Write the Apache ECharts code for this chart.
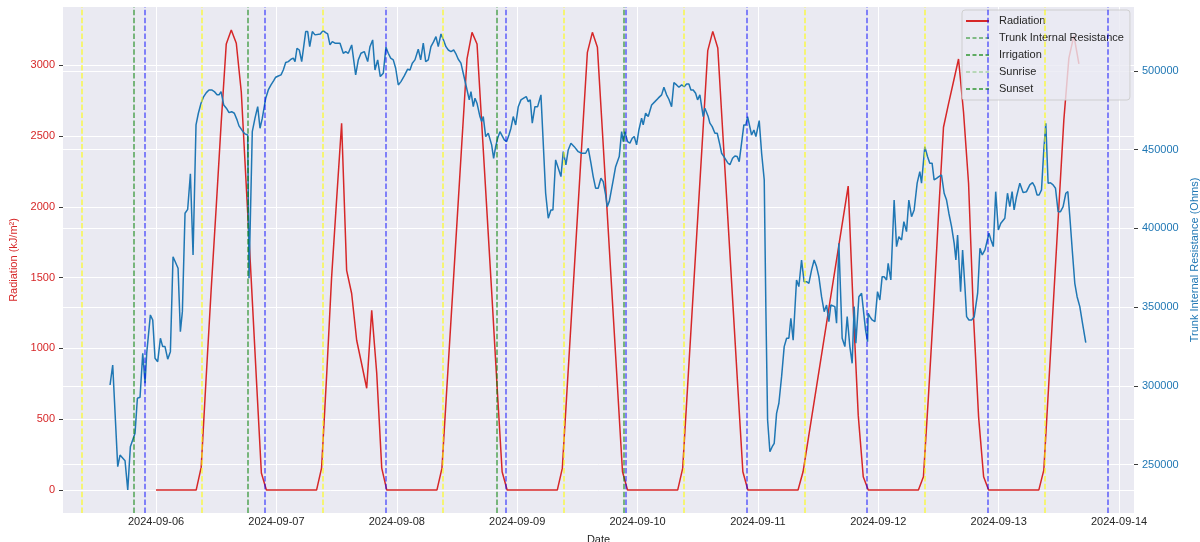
<!DOCTYPE html>
<html>
<head>
<meta charset="utf-8">
<title>Radiation and Trunk Internal Resistance</title>
<script src="https://cdn.jsdelivr.net/npm/echarts@6.0.0/dist/echarts.min.js"></script>
<style>
  html, body { margin: 0; padding: 0; background: #ffffff; }
  #chart { width: 1200px; height: 542px; }
</style>
</head>
<body>
<div id="chart"></div>
<script>
// ---- data ---------------------------------------------------------------
// Hourly solar radiation (kJ/m²), first value at radiationStart.
// null = no reading for that hour (line is drawn straight across).
const radiationStart = '2024-09-06 00:00';
const radiationValues = [
  // 09-06
  0, 0, 0, 0, 0, 0, 0, 0, 0, 160, 800, 1420, 2000, 2600, 3150, 3249, 3155, 2809, 2140, 1470, 790, 120, 0, 0,
  // 09-07
  0, 0, 0, 0, 0, 0, 0, 0, 0, 155, 800, 1500, 2050, 2590, 1551, 1388, 1058, 890, 719, 1269, 825, 155, 0, 0,
  // 09-08
  0, 0, 0, 0, 0, 0, 0, 0, 0, 153, 733, 1313, 1890, 2470, 3044, 3232, 3150, 2550, 1950, 1350, 730, 129, 0, 0,
  // 09-09
  0, 0, 0, 0, 0, 0, 0, 0, 0, 153, 743, 1333, 1920, 2510, 3091, 3232, 3126, 2530, 1930, 1330, 730, 129, 0, 0,
  // 09-10
  0, 0, 0, 0, 0, 0, 0, 0, 0, 153, 743, 1333, 1920, 2510, 3103, 3239, 3122, 2520, 1920, 1320, 720, 129, 0, 0,
  // 09-11
  0, 0, 0, 0, 0, 0, 0, 0, 0, 129, null, null, null, null, null, null, null, null, 2146, 1283, 529, 94, 0, 0,
  // 09-12
  0, 0, 0, 0, 0, 0, 0, 0, 0, 94, 663, 1269, 1940, 2562, 2727, 2885, 3044, 2666, 2165, 1215, 517, 94, 0, 0,
  // 09-13
  0, 0, 0, 0, 0, 0, 0, 0, 0, 141, 756, 1383, 2000, 2616, 3050, 3209, 3009
];

// Trunk internal resistance (Ohms); times are hours after 2024-09-06 00:00.
const resistanceHours = [
  -9.17, -8.64, -7.64, -7.18, -6.18, -5.64, -5.12, -4.19, -3.72, -3.19, -2.65, -2.19, -1.86, -1.13, -0.66, -0.2,
  0.33, 0.87, 1.33, 1.79, 2.33, 2.86, 3.39, 4.39, 4.85, 5.25, 5.78, 6.31, 6.85, 7.38, 7.97, 8.44, 8.97, 9.5,
  10.03, 10.56, 11.1, 11.62, 12.16, 12.56, 12.96, 13.49, 14.02, 14.55, 15.08, 15.61, 16.15, 16.54, 17.34, 17.74,
  18.28, 18.54, 19.19, 19.73, 20.27, 20.73, 21.19, 21.87, 22.38, 22.92, 23.46, 23.86, 24.38, 24.92, 25.37, 25.85,
  26.37, 26.91, 27.37, 27.71, 28.1, 28.56, 29.04, 29.84, 30.24, 30.64, 31.16, 31.69, 32.75, 33.29, 33.82, 34.22,
  34.68, 35.14, 35.68, 36.68, 37.33, 37.81, 38.33, 39.01, 39.33, 39.8, 40.33, 40.86, 41.52, 42.2, 42.65, 43.19,
  43.65, 44.19, 44.71, 45.31, 45.84, 46.3, 46.78, 47.3, 47.78, 48.3, 48.83, 49.49, 50.17, 50.63, 51.09, 51.62,
  52.28, 52.76, 53.28, 53.76, 54.28, 54.81, 55.35, 55.81, 56.27, 56.81, 57.35, 57.8, 58.27, 58.8, 59.34, 59.74,
  60.26, 60.79, 61.25, 61.59, 61.93, 62.45, 62.79, 63.25, 63.59, 63.99, 64.58, 64.92, 65.24, 65.72, 66.24, 66.91,
  67.31, 67.71, 68.11, 68.57, 69.43, 69.9, 70.36, 70.76, 71.22, 71.7, 72.22, 72.76, 73.3, 73.81, 74.21, 74.61,
  75.01, 75.54, 76.08, 76.74, 77.68, 78.2, 78.73, 79.13, 79.67, 80.73, 81.19, 81.72, 82.18, 82.72, 83.38, 84.18,
  84.85, 85.65, 86.17, 86.71, 87.16, 87.64, 88.16, 88.7, 89.16, 89.64, 89.96, 90.36, 90.69, 91.16, 91.63, 92.35,
  92.83, 93.15, 93.48, 94.02, 94.48, 94.94, 95.34, 95.81, 96.27, 96.81, 97.13, 97.61, 98.13, 98.81, 99.46, 100.12,
  100.8, 101.26, 101.79, 102.25, 102.79, 103.25, 103.79, 104.25, 104.79, 105.3, 105.78, 106.24, 106.64, 107.1, 107.58, 107.97,
  108.43, 108.77, 109.09, 109.43, 109.77, 110.09, 110.43, 110.89, 111.43, 111.89, 112.42, 112.76, 113.22, 113.56, 113.96, 114.42,
  114.95, 115.41, 115.87, 116.27, 116.74, 117.2, 117.6, 117.94, 118.26, 118.74, 119.2, 119.6, 120.26, 120.74, 121.26, 121.59,
  121.93, 122.39, 122.85, 123.25, 123.72, 124.18, 124.72, 125.24, 125.72, 126.17, 126.57, 127.03, 127.7, 128.16, 128.7, 129.21,
  129.7, 130.16, 130.7, 131.21, 131.69, 132.15, 132.69, 133.21, 133.69, 134.15, 134.54, 135.34, 135.68, 136.14, 136.8, 137.34,
  137.8, 138.33, 138.79, 139.19, 139.53, 140.13, 140.67, 141.46, 141.86, 141.98, 142.32, 142.78, 143.32, 143.85, 144.31, 144.77,
  145.17, 145.65, 145.97, 146.5, 147.16, 147.64, 148.1, 148.64, 149.1, 149.63, 150.09, 150.63, 151.15, 151.75, 152.28, 152.62,
  153.28, 153.81, 154.27, 154.73, 155.13, 155.61, 156.07, 156.61, 157.13, 157.61, 158.07, 158.61, 159.13, 159.47, 159.81, 160.41,
  160.81, 161.27, 161.61, 162.07, 162.61, 163.13, 163.81, 164.27, 164.73, 165.27, 165.61, 166.07, 166.47, 166.93, 167.41, 167.93,
  168.43, 169.23, 169.76, 170.22, 170.68, 171.08, 171.56, 172.22, 172.87, 173.55, 174.21, 174.75, 175.2, 175.66, 176.06, 176.54,
  177.0, 177.4, 177.86, 178.33, 178.85, 179.33, 179.85, 180.33, 180.85, 181.39, 181.79, 182.19, 182.72, 183.18, 183.64, 184.18,
  184.72, 185.37
];
const resistanceOhms = [
  300500, 313200, 248600, 256000, 252400, 233800, 261300, 269800, 292100, 292700, 320700, 301600, 320700, 345000, 341800, 317500,
  315300, 330200, 324900, 324900, 316900, 321700, 382000, 374700, 334400, 347100, 409600, 412100, 434600, 383100, 465700, 473100, 479500, 483700,
  486200, 487900, 487900, 486900, 484800, 484800, 486900, 478400, 476300, 473500, 474100, 473100, 468900, 465100, 461400, 460000,
  459300, 368300, 461400, 470000, 477300, 463600, 470000, 482700, 487900, 491100, 493800, 496000, 496800, 497500, 500600, 505300,
  505900, 507400, 508100, 505900, 514400, 513300, 505900, 525000, 525000, 515400, 525000, 522900, 523500, 525600, 524300, 523500,
  516500, 518600, 517600, 517600, 511200, 512300, 511200, 516500, 515400, 497500, 507000, 511200, 512300, 505900, 515400, 519700,
  500600, 507000, 496400, 498500, 515100, 511200, 508100, 507000, 501700, 491100, 493200, 496800, 501100, 500600, 504900, 507000,
  513800, 507000, 517600, 505900, 507000, 515400, 518600, 521800, 515400, 523500, 519300, 515400, 513300, 512300, 513300, 511200,
  507400, 504900, 498500, 498500, 489000, 481600, 486900, 477300, 482700, 479500, 471000, 467800, 471000, 458300, 460400, 453000,
  444500, 451900, 457200, 461400, 456200, 455100, 459300, 463600, 471000, 465700, 477300, 481600, 482700, 483700, 480500, 481600,
  466800, 477300, 477300, 484800, 422300, 406400, 411700, 411700, 443500, 432900, 448700, 440300, 449800, 454100, 451900, 448700,
  447700, 447700, 450900, 441400, 432900, 425500, 425500, 431800, 429700, 421200, 413800, 417000, 416000, 430800, 439200, 445600,
  461400, 455100, 461400, 455100, 454100, 457200, 458300, 453000, 462500, 470000, 465700, 473100, 471000, 478400, 480500, 482700,
  484800, 489600, 484800, 482000, 477300, 492600, 491100, 489600, 491100, 490000, 491700, 491700, 487900, 487900, 485800, 481600,
  484800, 485800, 471000, 476300, 476900, 471000, 466800, 464600, 460400, 460400, 453000, 447700, 445600, 445600, 441700, 440400,
  444500, 446000, 445600, 442400, 454100, 465700, 465700, 471000, 471400, 459300, 462500, 458300, 468400, 447700, 430800, 348200,
  278300, 258100, 261300, 263500, 282500, 288900, 305800, 324900, 330200, 330200, 342900, 329000, 367200, 363000, 379900, 366100,
  366100, 365100, 373600, 379900, 375700, 369300, 356600, 347100, 351300, 340700, 351300, 350300, 339700, 390500, 330200, 324900,
  343900, 324900, 314300, 350300, 327000, 356600, 358800, 335500, 328000, 346100, 343900, 341800, 340700, 359800, 354500, 369300,
  369300, 367200, 377800, 367200, 418000, 388400, 394700, 392600, 404300, 397900, 418000, 407400, 411700, 428700, 436000, 428700,
  451900, 445600, 441400, 441400, 430800, 431800, 432900, 433900, 422300, 418000, 409600, 401100, 390500, 379900, 395800, 359800,
  386300, 363000, 343900, 341800, 341800, 343900, 358800, 387400, 383100, 386300, 385200, 396900, 392600, 388400, 423300, 399000,
  403200, 406400, 422300, 413800, 423300, 411700, 420100, 428700, 422700, 423300, 427600, 429000, 426500, 421200, 421200, 424400,
  449800, 466800, 428700, 429000, 427600, 425500, 410600, 410600, 413800, 422300, 423300, 407400, 384200, 365100, 356600, 350300,
  339700, 327400
];

// Event markers (local time)
const irrigationTimes = ['2024-09-05 19:36', '2024-09-06 18:20', '2024-09-08 19:58', '2024-09-09 21:16'];
const sunriseTimes = ['2024-09-05 09:14', '2024-09-06 09:12', '2024-09-07 09:10', '2024-09-08 09:13', '2024-09-09 09:15',
                      '2024-09-10 09:14', '2024-09-11 09:16', '2024-09-12 09:15', '2024-09-13 09:14'];
const sunsetTimes = ['2024-09-05 21:48', '2024-09-06 21:45', '2024-09-07 21:50', '2024-09-08 21:47', '2024-09-09 21:35',
                     '2024-09-10 21:49', '2024-09-11 21:46', '2024-09-12 21:51', '2024-09-13 21:48'];

// Axis ticks
const dateTicks = ['2024-09-06', '2024-09-07', '2024-09-08', '2024-09-09', '2024-09-10',
                   '2024-09-11', '2024-09-12', '2024-09-13', '2024-09-14'];
const radiationTicks = [0, 500, 1000, 1500, 2000, 2500, 3000];
const resistanceTicks = [250000, 300000, 350000, 400000, 450000, 500000];

// ---- helpers ------------------------------------------------------------
function toTime(s) {
  const [d, t = '00:00'] = s.split(' ');
  const [Y, M, D] = d.split('-').map(Number);
  const [h, m] = t.split(':').map(Number);
  return new Date(Y, M - 1, D, h, m).getTime();
}
const HOUR = 3600 * 1000;
const base = toTime(radiationStart);
const pad2 = n => String(n).padStart(2, '0');
const fmtDate = v => { const d = new Date(v); return d.getFullYear() + '-' + pad2(d.getMonth() + 1) + '-' + pad2(d.getDate()); };

const radiationData = radiationValues.map((v, i) => [base + i * HOUR, v]);
const resistanceData = resistanceHours.map((h, i) => [base + h * HOUR, resistanceOhms[i]]);

const FONT = '"Liberation Sans", Arial, Helvetica, sans-serif';
const TEXT = '#262626';
const RED = '#d62728';
const BLUE = '#1f77b4';
const DASH = [5.5, 2.4];
const LEGEND_GREEN = 'rgba(0,128,0,0.6)';

function vlines(times, color) {
  return {
    silent: true,
    symbol: ['none', 'none'],
    label: { show: false },
    emphasis: { disabled: true },
    animation: false,
    lineStyle: { color: color, type: DASH, width: 1.5 },
    data: times.map(t => ({ xAxis: toTime(t) }))
  };
}

// ---- chart --------------------------------------------------------------
const chart = echarts.init(document.getElementById('chart'), null, { renderer: 'canvas' });

chart.setOption({
  animation: false,
  backgroundColor: '#ffffff',
  textStyle: { fontFamily: FONT },
  grid: {
    left: 63, right: 66, top: 7, bottom: 29,
    outerBoundsMode: 'none',
    show: true, backgroundColor: '#EAEAF2', borderWidth: 0
  },
  legend: {
    left: 962, top: 10,
    orient: 'vertical',
    selectedMode: false,
    padding: [4, 6, 4, 3],
    itemWidth: 23, itemHeight: 12, itemGap: 3,
    backgroundColor: 'rgba(234,234,242,0.8)',
    borderColor: 'rgba(204,204,204,0.9)', borderWidth: 1, borderRadius: 3,
    itemStyle: { opacity: 0, borderWidth: 0 },
    textStyle: { color: TEXT, fontSize: 11, fontFamily: FONT, lineHeight: 14, padding: [0, 0, 0, 5] },
    data: [
      { name: 'Radiation' },
      { name: 'Trunk Internal Resistance', lineStyle: { color: LEGEND_GREEN, type: [4, 2.5], width: 1.5 } },
      { name: 'Irrigation' },
      { name: 'Sunrise' },
      { name: 'Sunset' }
    ]
  },
  xAxis: {
    // timestamps (ms) on a linear scale, labelled as dates
    type: 'value',
    min: toTime('2024-09-05 05:27'),
    max: toTime('2024-09-14 02:59'),
    axisLine: { show: false },
    axisTick: { show: false, customValues: dateTicks.map(toTime) },
    axisLabel: {
      customValues: dateTicks.map(toTime),
      color: TEXT, fontSize: 11, fontFamily: FONT, margin: 3,
      formatter: v => fmtDate(v)
    },
    splitLine: { show: true, lineStyle: { color: '#ffffff', width: 1 } },
    name: 'Date', nameLocation: 'middle', nameGap: 21,
    nameTextStyle: { color: TEXT, fontSize: 11, fontFamily: FONT }
  },
  yAxis: [
    {
      type: 'value', position: 'left',
      min: -162, max: 3411,
      axisLine: { show: false },
      axisTick: { show: true, length: 4, lineStyle: { color: '#3a3a3a' }, customValues: radiationTicks },
      axisLabel: { customValues: radiationTicks, color: RED, fontSize: 11, fontFamily: FONT, margin: 8,
                   formatter: v => String(v) },
      splitLine: { show: true, lineStyle: { color: '#ffffff', width: 1 } },
      name: 'Radiation (kJ/m²)', nameLocation: 'middle', nameGap: 34, nameRotate: 90,
      nameTextStyle: { color: RED, fontSize: 11, fontFamily: FONT }
    },
    {
      type: 'value', position: 'right',
      min: 219200, max: 540600,
      axisLine: { show: false },
      axisTick: { show: true, length: 4, lineStyle: { color: '#3a3a3a' }, customValues: resistanceTicks },
      axisLabel: { customValues: resistanceTicks, color: BLUE, fontSize: 11, fontFamily: FONT, margin: 8,
                   formatter: v => String(v) },
      splitLine: { show: true, lineStyle: { color: '#ffffff', width: 1 } },
      name: 'Trunk Internal Resistance (Ohms)', nameLocation: 'middle', nameGap: 47, nameRotate: 90,
      nameTextStyle: { color: BLUE, fontSize: 11, fontFamily: FONT }
    }
  ],
  series: [
    {
      name: 'Radiation', type: 'line', xAxisIndex: 0, yAxisIndex: 0,
      data: radiationData, connectNulls: true,
      symbol: 'none', z: 2,
      lineStyle: { color: RED, width: 1.5 }, itemStyle: { color: RED },
      emphasis: { disabled: true }
    },
    {
      name: 'Irrigation', type: 'line', xAxisIndex: 0, yAxisIndex: 0, data: [],
      symbol: 'none', z: 3,
      lineStyle: { color: LEGEND_GREEN, type: [4, 2.5], width: 1.5 }, itemStyle: { color: LEGEND_GREEN },
      markLine: vlines(irrigationTimes, 'rgba(0,128,0,0.65)')
    },
    {
      name: 'Sunrise', type: 'line', xAxisIndex: 0, yAxisIndex: 0, data: [],
      symbol: 'none', z: 3,
      lineStyle: { color: 'rgba(120,190,110,0.45)', type: [4, 2.5], width: 1.5 }, itemStyle: { color: 'rgba(120,190,110,0.45)' },
      markLine: vlines(sunriseTimes, 'rgba(255,255,0,0.7)')
    },
    {
      name: 'Sunset', type: 'line', xAxisIndex: 0, yAxisIndex: 0, data: [],
      symbol: 'none', z: 3,
      lineStyle: { color: LEGEND_GREEN, type: [4, 2.5], width: 1.5 }, itemStyle: { color: LEGEND_GREEN },
      markLine: vlines(sunsetTimes, 'rgba(0,0,255,0.6)')
    },
    {
      name: 'Trunk Internal Resistance', type: 'line', xAxisIndex: 0, yAxisIndex: 1,
      data: resistanceData,
      symbol: 'none', z: 4,
      lineStyle: { color: BLUE, width: 1.5 }, itemStyle: { color: BLUE },
      emphasis: { disabled: true }
    }
  ]
});
</script>
</body>
</html>
